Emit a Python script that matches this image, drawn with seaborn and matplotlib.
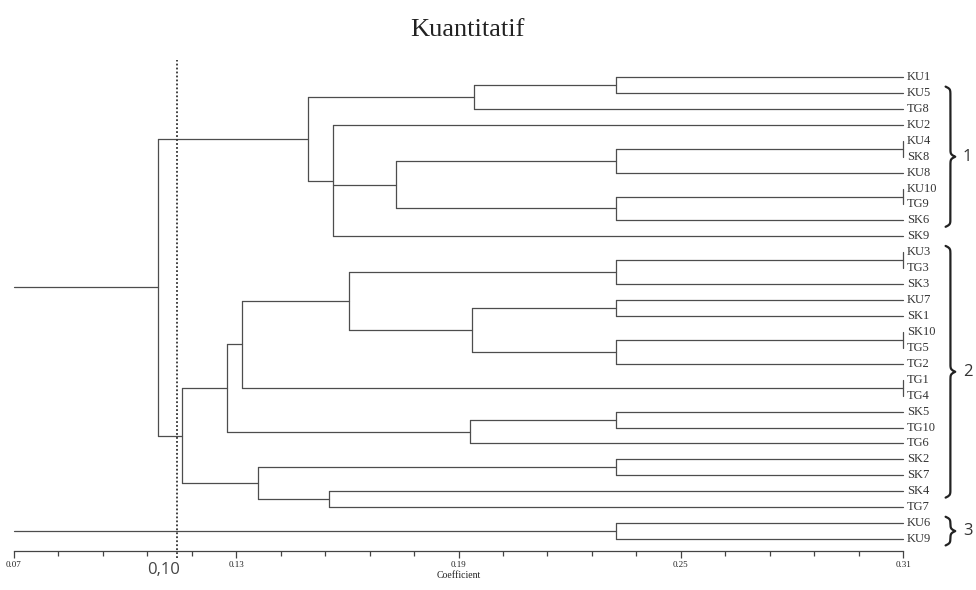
import numpy as np
import pandas as pd
import seaborn as sns
import matplotlib.pyplot as plt

## leaves, top to bottom
leaves = ["KU1", "KU5", "TG8", "KU2", "KU4", "SK8", "KU8", "KU10", "TG9", "SK6",
          "SK9", "KU3", "TG3", "SK3", "KU7", "SK1", "SK10", "TG5", "TG2", "TG1",
          "TG4", "SK5", "TG10", "TG6", "SK2", "SK7", "SK4", "TG7", "KU6", "KU9"]

## merges in order, node k is called n{k+1}
node_children = [
    ("KU1", "KU5"), ("n1", "TG8"), ("KU4", "SK8"), ("n3", "KU8"),
    ("KU10", "TG9"), ("n5", "SK6"), ("n4", "n6"), ("KU2", "n7", "SK9"),
    ("n2", "n8"), ("KU3", "TG3"), ("n10", "SK3"), ("KU7", "SK1"),
    ("SK10", "TG5"), ("n13", "TG2"), ("n12", "n14"), ("n11", "n15"),
    ("TG1", "TG4"), ("n16", "n17"), ("SK5", "TG10"), ("n19", "TG6"),
    ("n18", "n20"), ("SK2", "SK7"), ("SK4", "TG7"), ("n22", "n23"),
    ("n21", "n24"), ("n9", "n25"), ("KU6", "KU9"), ("n26", "n27"),
]
node_heights = [
    0.2325, 0.1942, 0.31, 0.2325,
    0.31, 0.2325, 0.1731, 0.1561,
    0.1494, 0.31, 0.2325, 0.2325,
    0.31, 0.2325, 0.1937, 0.1604,
    0.31, 0.1316, 0.2325, 0.1930,
    0.1275, 0.2325, 0.155, 0.1359,
    0.1154, 0.1089, 0.2325, 0.05,
]

x_ticks = [0.07, 0.13, 0.19, 0.25, 0.31]
cut_value = 0.114
cut_label = "0,10"

group_names = ["1", "2", "3"]
group_first = ["KU5", "KU3", "KU6"]
group_last = ["SK6", "SK4", "KU9"]

## build segments --------
x_min, x_max = x_ticks[0], x_ticks[-1]
pos = {name: (x_max, i) for i, name in enumerate(leaves)}
rows = []
seg = 0
for k, (kids, h) in enumerate(zip(node_children, node_heights)):
    ys = []
    for c in kids:
        ch, cy = pos[c]
        rows += [(seg, ch, cy), (seg, max(h, x_min), cy)]
        seg += 1
        ys.append(cy)
    if h >= x_min:
        rows += [(seg, h, min(ys)), (seg, h, max(ys))]
        seg += 1
    pos["n%d" % (k + 1)] = (h, (min(ys) + max(ys)) / 2)
segs = pd.DataFrame(rows, columns=["seg", "x", "y"])

## plot --------
sns.set_style("white")
plt.rcParams['font.family'] = ['Liberation Serif', 'DejaVu Serif']

fig = plt.figure(figsize=(9.76, 5.9), dpi=100)
ax = fig.add_axes([14 / 976, 39 / 590, 889 / 976, 491 / 590])

sns.lineplot(data=segs, x="x", y="y", units="seg", estimator=None, sort=False,
             color="#4d4d4d", linewidth=0.9, ax=ax, legend=False)
for ln in ax.lines:
    ln.set_clip_on(False)

ax.set_xlim(x_min, x_max)
ax.set_ylim(29.75, -1.07)

ax.axvline(cut_value, ymin=-0.015, ymax=1, color="#333333", ls=(0, (1, 1.2)),
           lw=1.3, clip_on=False)

## leaf labels
for i, name in enumerate(leaves):
    ax.annotate(name, xy=(x_max, i), xytext=(3, 0), textcoords="offset points",
                va="center", ha="left", fontsize=9, color="#333333",
                annotation_clip=False)

## braces
def brace(ax, y0, y1, x0, w, beta=14):
    n = 200
    ys = np.linspace(y0, y1, n + 1)
    half = ys[:n // 2 + 1]
    v = 1 / (1 + np.exp(-beta * (half - half[0]))) + 1 / (1 + np.exp(-beta * (half - half[-1])))
    v = np.concatenate((v, v[-2::-1]))
    ax.plot(x0 + w * (v - 0.5), ys, color="#222222", lw=1.6, clip_on=False)

for name, a, b in zip(group_names, group_first, group_last):
    y0 = leaves.index(a) - 0.4
    y1 = leaves.index(b) + 0.4
    brace(ax, y0, y1, 0.3215, 0.0026)
    ax.text(0.3262, (y0 + y1) / 2, name, va="center", ha="left", fontsize=12,
            family=["Open Sans", "DejaVu Sans"], color="#333333")

## axis
sns.despine(ax=ax, left=True, top=True, right=True)
ax.spines["bottom"].set_color("#444444")
ax.spines["bottom"].set_linewidth(0.9)
ax.set_xticks(x_ticks)
ax.set_xticklabels(["%.2f" % t for t in x_ticks], fontsize=6.5, color="#222222")
ax.set_xticks(np.arange(x_min, x_max + 0.001, 0.012), minor=True)
ax.tick_params(axis="x", which="major", direction="out", length=5, width=0.9,
               color="#444444", pad=2.5, bottom=True)
ax.tick_params(axis="x", which="minor", direction="out", length=3.5, width=0.9,
               color="#444444", bottom=True)
ax.set_yticks([])
ax.set_ylabel("")
ax.set_xlabel("Coefficient", fontsize=7, color="#222222", labelpad=1.5)

ax.text(cut_value - 0.0035, -0.038, cut_label, transform=ax.get_xaxis_transform(),
        ha="center", va="center", fontsize=12, family=["Open Sans", "DejaVu Sans"],
        color="#444444")

fig.text(467 / 976, 1 - 30 / 590, "Kuantitatif", ha="center", va="center",
         fontsize=19, color="#222222")

fig.savefig("out.png", dpi=100, facecolor="white")
